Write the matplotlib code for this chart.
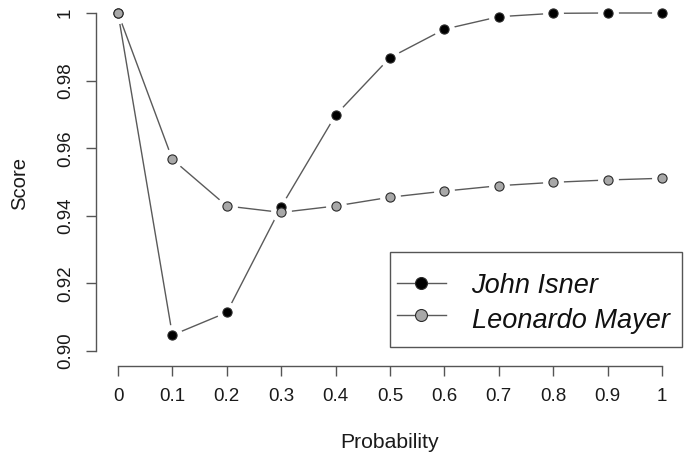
import matplotlib
matplotlib.use("Agg")
import matplotlib.pyplot as plt
from matplotlib.lines import Line2D
from matplotlib.patches import Rectangle

plt.rcParams['font.family'] = ['Liberation Sans', 'DejaVu Sans']

prob = [0, 0.1, 0.2, 0.3, 0.4, 0.5, 0.6, 0.7, 0.8, 0.9, 1.0]
isner = [1.0, 0.9047, 0.9114, 0.9427, 0.9698, 0.9868, 0.9952, 0.9989, 0.9999, 1.0, 1.0]
mayer = [1.0, 0.9567, 0.9429, 0.9410, 0.9429, 0.9455, 0.9473, 0.9489, 0.9499, 0.9506, 0.9511]
names = ["John Isner", "Leonardo Mayer"]
xticks = [0, 0.1, 0.2, 0.3, 0.4, 0.5, 0.6, 0.7, 0.8, 0.9, 1.0]
xticklabels = ["0", "0.1", "0.2", "0.3", "0.4", "0.5", "0.6", "0.7", "0.8", "0.9", "1"]
yticks = [0.90, 0.92, 0.94, 0.96, 0.98, 1.0]
yticklabels = ["0.90", "0.92", "0.94", "0.96", "0.98", "1"]

W, H = 688, 455
fig = plt.figure(figsize=(W/100, H/100), dpi=100)
# axes placed in pixel coordinates (R-like plot region)
L, R, T, B = 95.5, 684.0, 0.0, 366.0
ax = fig.add_axes([L/W, 1-B/H, (R-L)/W, (B-T)/H])
xpx = 544.0   # pixels per unit x
ypx = 3380.0  # pixels per unit y
ax.set_xlim(0 - (118-L)/xpx, 1 + (R-662)/xpx)
ax.set_ylim(0.9 - (B-351)/ypx, 1 + (13-T)/ypx)

line_col = '#5a5a5a'
edge_col = '#2a2a2a'
axis_col = '#555555'
series = [(isner, 'black'), (mayer, '#a8a8a8')]
for vals, fc in series:
    ax.plot(prob, vals, color=line_col, lw=1.0, zorder=1, clip_on=False)
for vals, fc in series:
    ax.plot(prob, vals, ls='none', marker='o', ms=14, mfc='white', mec='white', zorder=2, clip_on=False)
for vals, fc in series:
    ax.plot(prob, vals, ls='none', marker='o', ms=6.6, mfc=fc, mec=edge_col, mew=0.8, zorder=3, clip_on=False)

for s in ['top', 'right']:
    ax.spines[s].set_visible(False)
ax.spines['left'].set_bounds(0.90, 1.0)
ax.spines['bottom'].set_bounds(0, 1)
for s in ['left', 'bottom']:
    ax.spines[s].set_color(axis_col)
    ax.spines[s].set_linewidth(1.0)

ax.set_xticks(xticks)
ax.set_xticklabels(xticklabels)
ax.set_yticks(yticks)
ax.set_yticklabels(yticklabels, rotation=90, va='center')
ax.tick_params(axis='both', length=7.4, width=1.0, color=axis_col, labelsize=13.5, labelcolor='#1a1a1a')
ax.tick_params(axis='x', pad=8.6)
ax.tick_params(axis='y', pad=8.0)

fig.text(25/W, 1-184/H, "Score", rotation=90, rotation_mode='anchor', ha='center', va='baseline',
         fontsize=14.6, color='#1a1a1a')
fig.text(389.5/W, 1-448/H, "Probability", ha='center', va='baseline', fontsize=15.2, color='#1a1a1a')

# legend box (manual, R style)
fig.patches.append(Rectangle((390/W, 1-347/H), (681.5-390)/W, (347-251.5)/H,
                             transform=fig.transFigure, fill=False, ec=axis_col, lw=1.0))
rows = [283, 315]
baselines = [293, 327.5]
for (vals, fc), name, yy, bl in zip(series, names, rows, baselines):
    fig.add_artist(Line2D([396.7/W, 446/W], [1-yy/H, 1-yy/H], transform=fig.transFigure,
                          color=line_col, lw=1.0))
    fig.add_artist(Line2D([420.7/W], [1-yy/H], transform=fig.transFigure, ls='none',
                          marker='o', ms=8.6, mfc=fc, mec=edge_col, mew=0.8))
    fig.text(471.5/W, 1-bl/H, name, ha='left', va='baseline', fontsize=19.5, style='italic', color='#111111')

fig.savefig("out.png", dpi=100)
